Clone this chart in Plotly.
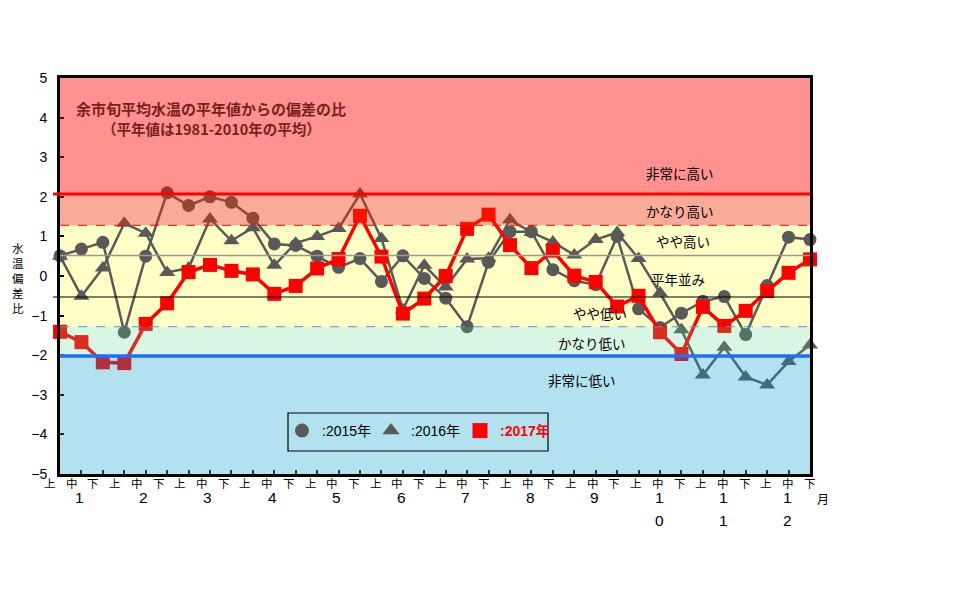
import plotly.graph_objects as go

# 旬ラベルと月
jun = ['上', '中', '下']
months = ['1', '2', '3', '4', '5', '6', '7', '8', '9', '10', '11', '12']

# 偏差の比
y2015 = [0.51, 0.68, 0.85, -1.42, 0.50, 2.10, 1.78, 2.00, 1.86, 1.46, 0.81, 0.77,
         0.50, 0.22, 0.44, -0.14, 0.51, -0.06, -0.56, -1.28, 0.35, 1.12, 1.12, 0.16,
         -0.12, -0.22, 1.00, -0.83, -1.30, -0.94, -0.64, -0.52, -1.48, -0.24, 0.98, 0.92]
y2016 = [0.50, -0.51, 0.20, 1.33, 1.08, 0.09, 0.20, 1.44, 0.89, 1.22, 0.27, 0.83,
         1.00, 1.20, 2.07, 0.95, -0.85, 0.27, -0.28, 0.43, 0.45, 1.42, 1.10, 0.86,
         0.53, 0.92, 1.10, 0.44, -0.43, -1.36, -2.50, -1.80, -2.55, -2.75, -2.16, -1.74]
y2017 = [-1.41, -1.67, -2.18, -2.20, -1.21, -0.69, 0.10, 0.28, 0.13, 0.04, -0.45, -0.25,
         0.19, 0.43, 1.52, 0.49, -0.95, -0.57, 0.00, 1.19, 1.55, 0.78, 0.20, 0.64,
         0.01, -0.15, -0.77, -0.50, -1.42, -1.97, -0.78, -1.26, -0.88, -0.38, 0.08, 0.42]

# 階級の境界
th_hijo_hi = 2.07
th_kanari_hi = 1.28
th_yaya_hi = 0.52
th_yaya_lo = -0.53
th_kanari_lo = -1.28
th_hijo_lo = -2.02

class_labels = ['非常に高い', 'かなり高い', 'やや高い', '平年並み', 'やや低い', 'かなり低い', '非常に低い']

x = list(range(len(y2017)))

gray = '#595959'
red = '#FF0000'
jp = 'Noto Sans CJK JP'
jp_font = 'Liberation Sans, Noto Sans CJK JP'

# 描画領域（参照画像のピクセル）、ページ余白分をずらす
L, R, T, B = 60, 810, 78, 474
OFF = 8


def px_x(px):
    return (px - L) / (R - L)


def px_y(py):
    return (B - py) / (B - T)


def note(text, px, py, size, color='black', family=jp):
    return dict(xref='paper', yref='paper', x=px_x(px), y=px_y(py), text=text,
                showarrow=False, xanchor='center', yanchor='middle',
                font=dict(size=size, color=color, family=family))


fig = go.Figure()

fig.add_trace(go.Scatter(
    x=x, y=y2015, mode='lines+markers', showlegend=False, cliponaxis=False,
    line=dict(color=gray, width=2.5),
    marker=dict(symbol='circle', size=13, color=gray)))
fig.add_trace(go.Scatter(
    x=x, y=y2016, mode='lines+markers', showlegend=False, cliponaxis=False,
    line=dict(color=gray, width=2.5),
    marker=dict(symbol='triangle-up', size=14, color=gray)))
fig.add_trace(go.Scatter(
    x=x, y=y2017, mode='lines+markers', showlegend=False, cliponaxis=False,
    line=dict(color=red, width=3.5),
    marker=dict(symbol='square', size=14, color=red)))

# 凡例用
fig.add_trace(go.Scatter(x=[None], y=[None], mode='markers', name=':2015年',
                         marker=dict(symbol='circle', size=14, color=gray)))
fig.add_trace(go.Scatter(x=[None], y=[None], mode='markers', name=':2016年',
                         marker=dict(symbol='triangle-up', size=15, color=gray)))
fig.add_trace(go.Scatter(x=[None], y=[None], mode='markers',
                         name="<span style='color:#FF0000'><b>:2017年</b></span>",
                         marker=dict(symbol='square', size=15, color=red)))

shapes = []
# 平年並み帯（下層）
shapes.append(dict(type='rect', xref='paper', yref='y', x0=0, x1=1,
                   y0=th_kanari_lo, y1=th_kanari_hi, fillcolor='#FFFFC6',
                   line=dict(width=0), layer='below'))
# 上に重ねる半透明の帯
shapes.append(dict(type='rect', xref='paper', yref='y', x0=0, x1=1,
                   y0=th_hijo_hi, y1=5, fillcolor='rgba(255,0,0,0.43)',
                   line=dict(width=0), layer='above'))
shapes.append(dict(type='rect', xref='paper', yref='y', x0=0, x1=1,
                   y0=th_kanari_hi, y1=th_hijo_hi, fillcolor='rgba(240,45,0,0.40)',
                   line=dict(width=0), layer='above'))
shapes.append(dict(type='rect', xref='paper', yref='y', x0=0, x1=1,
                   y0=th_hijo_lo, y1=th_kanari_lo, fillcolor='rgba(80,210,130,0.22)',
                   line=dict(width=0), layer='above'))
shapes.append(dict(type='rect', xref='paper', yref='y', x0=0, x1=1,
                   y0=-5, y1=th_hijo_lo, fillcolor='rgba(0,158,201,0.30)',
                   line=dict(width=0), layer='above'))
# 境界線
shapes.append(dict(type='line', xref='paper', yref='y', x0=px_x(53), x1=1,
                   y0=th_hijo_hi, y1=th_hijo_hi, line=dict(color=red, width=3), layer='above'))
shapes.append(dict(type='line', xref='paper', yref='y', x0=0, x1=1,
                   y0=th_kanari_hi, y1=th_kanari_hi,
                   line=dict(color=red, width=1, dash='dash'), layer='above'))
shapes.append(dict(type='line', xref='paper', yref='y', x0=0, x1=1,
                   y0=th_yaya_hi, y1=th_yaya_hi, line=dict(color='#9A9A92', width=1.5), layer='above'))
shapes.append(dict(type='line', xref='paper', yref='y', x0=px_x(53), x1=1,
                   y0=th_yaya_lo, y1=th_yaya_lo, line=dict(color='black', width=1.2), layer='above'))
shapes.append(dict(type='line', xref='paper', yref='y', x0=0, x1=1,
                   y0=th_kanari_lo, y1=th_kanari_lo,
                   line=dict(color='#5A92E0', width=1, dash='dash'), layer='above'))
shapes.append(dict(type='line', xref='paper', yref='y', x0=0, x1=1,
                   y0=th_hijo_lo, y1=th_hijo_lo, line=dict(color='#1E6EFF', width=3.5), layer='above'))
# 凡例の枠
shapes.append(dict(type='rect', xref='paper', yref='paper', x0=px_x(288), x1=px_x(548),
                   y0=px_y(451), y1=px_y(413), line=dict(color='black', width=1.2),
                   fillcolor='rgba(0,0,0,0)', layer='above'))

annotations = []
# タイトル
annotations.append(note('<b>余市旬平均水温の平年値からの偏差の比</b>', 211, 108, 15, '#7a1f1f'))
annotations.append(note('<b>（平年値は1981-2010年の平均）</b>', 211, 128, 14.5, '#7a1f1f'))

# 階級ラベル
label_pos = [(680, 173), (680, 211), (683, 241), (678, 279), (600, 313), (592, 343), (582, 380)]
for txt, (px, py) in zip(class_labels, label_pos):
    annotations.append(note(txt, px, py, 13.5))

# 縦軸タイトル
annotations.append(note('<br>'.join('水温偏差比'), 18, 278, 11.5))

# 旬ラベル
for i in x:
    annotations.append(note(jun[i % 3], 50 + 21.71 * i, 483, 11.5))

# 月ラベル
for m, mon in enumerate(months):
    px = 79 + 64.45 * m
    for k, ch in enumerate(mon):
        annotations.append(note(ch, px, 497 + 23 * k, 15.5, family='Liberation Sans'))
annotations.append(note('月', 823, 498, 12))

fig.update_layout(
    width=979, height=606,
    margin=dict(l=L - OFF, r=979 - (R - OFF), t=T - OFF, b=606 - (B - OFF)),
    paper_bgcolor='white', plot_bgcolor='white',
    font=dict(family=jp_font, color='black', size=14),
    shapes=shapes, annotations=annotations,
    showlegend=True,
    legend=dict(orientation='h', x=px_x(282), y=px_y(415), xanchor='left', yanchor='top',
                borderwidth=0, bgcolor='rgba(0,0,0,0)',
                font=dict(size=14, family=jp_font), itemwidth=30, entrywidth=44),
)

fig.update_xaxes(range=[0, 35], tickvals=x, showticklabels=False, ticks='inside', ticklen=4,
                 tickwidth=2, tickcolor='#1a1a1a', showgrid=False, zeroline=False,
                 showline=True, linewidth=3, linecolor='black', mirror=True)
fig.update_yaxes(range=[-5, 5], dtick=1, ticks='inside', ticklen=4, tickwidth=2, tickcolor='black',
                 showgrid=False, zeroline=False, showline=True, linewidth=3, linecolor='black',
                 mirror=True, ticklabelstandoff=7, tickfont=dict(size=14, family='Liberation Sans'))

fig.write_html('out.html')
